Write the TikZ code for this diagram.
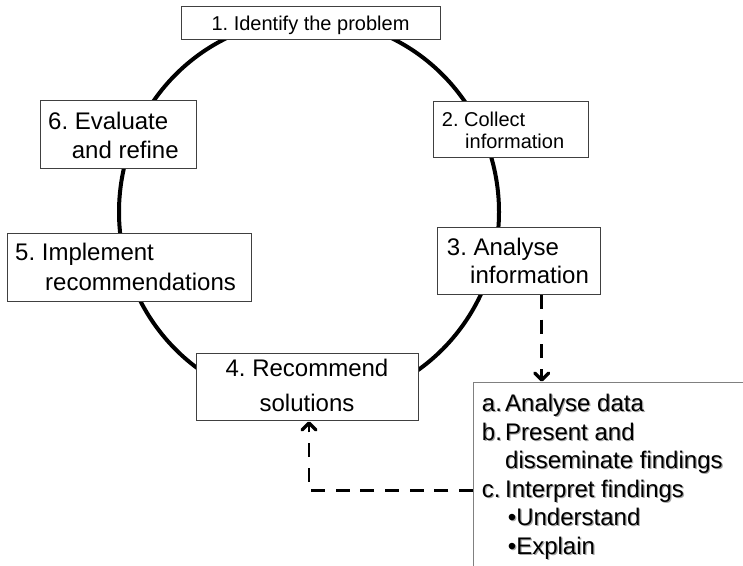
\documentclass[tikz,border=0pt]{standalone}
\usepackage{fontspec}
\setmainfont{Liberation Sans}
\newcommand{\hang}[1]{\makebox[#1][l]}
\newcommand{\stepsText}{\fontsize{24}{28.5}\selectfont\begin{tabular}[t]{@{}l@{}l@{}}
    \hang{23.3pt}{a.}&Analyse data\\
    \hang{23.3pt}{b.}&Present and\\
    &disseminate findings\\
    \hang{23.3pt}{c.}&Interpret findings\\
    &\hspace*{2.7pt}•Understand\\
    &\hspace*{2.7pt}•Explain
  \end{tabular}}
\begin{document}
\frenchspacing
\begin{tikzpicture}[x=1pt,y=-1pt,
  stagebox/.style={draw=black!75, line width=1pt, fill=white, inner sep=0pt, anchor=north west},
  detailbox/.style={draw=black!50, line width=1.4pt, fill=white, inner sep=0pt, anchor=north west},
  lbl/.style={inner sep=0pt, text=black},
  cycle/.style={line width=4pt},
  flow/.style={line width=2.8pt, dash pattern=on 14pt off 10.7pt},
  chevron/.style={line width=3.3pt, line cap=round, line join=round}]
\useasboundingbox (0,0) rectangle (743,565);
\clip (0,0) rectangle (743,565);

% the improvement cycle
\draw[cycle] (309,212) ellipse [x radius=190, y radius=193];

% stage boxes
\node[stagebox, minimum width=259pt, minimum height=33pt] (b1) at (181,6) {};
\node[stagebox, minimum width=155pt, minimum height=56pt] (b2) at (433,101) {};
\node[stagebox, minimum width=163pt, minimum height=67pt] (b3) at (437,227) {};
\node[stagebox, minimum width=222pt, minimum height=67pt] (b4) at (196,353) {};
\node[stagebox, minimum width=244pt, minimum height=68pt] (b5) at (7,233) {};
\node[stagebox, minimum width=156pt, minimum height=68pt] (b6) at (40,100) {};
\node[detailbox, minimum width=300pt, minimum height=220pt] (b7) at (473,382) {};

% stage labels
\node[lbl, anchor=base] (t1) at (310.5,30.7)
  {\fontsize{20}{22}\selectfont 1. Identify the problem};
\node[lbl, anchor=base west] (t2) at (441.7,126.7)
  {\fontsize{20}{21.6}\selectfont\begin{tabular}[t]{@{}l@{}}2. Collect\\\hspace*{23.3pt}information\end{tabular}};
\node[lbl, anchor=base west] (t3) at (446.7,255)
  {\fontsize{24}{28.3}\selectfont\begin{tabular}[t]{@{}l@{}}3. Analyse\\\hspace*{23.3pt}information\end{tabular}};
\node[lbl, anchor=base] (t4) at (307,376)
  {\fontsize{24}{35}\selectfont\begin{tabular}[t]{@{}c@{}}4. Recommend\\solutions\end{tabular}};
\node[lbl, anchor=base west] (t5) at (15,260)
  {\fontsize{24}{30}\selectfont\begin{tabular}[t]{@{}l@{}}5. Implement\\\hspace*{30pt}recommendations\end{tabular}};
\node[lbl, anchor=base west] (t6) at (48,129)
  {\fontsize{24}{29.3}\selectfont\begin{tabular}[t]{@{}l@{}}6. Evaluate\\\hspace*{23.7pt}and refine\end{tabular}};

% analysis steps, with their soft drop shadow
\node[lbl, anchor=base west, text=black!35] (t7s) at (482.9,412.9) {\stepsText};
\node[lbl, anchor=base west] (t7) at (481.7,411.7) {\stepsText};

% dashed links, each ending in an open chevron head
\coordinate (xa) at (541.7,0);
\coordinate (xb) at (309,0);
\coordinate (yb) at (0,490.7);
\draw[flow] (b3.south -| xa) -- ([yshift=2pt]b7.north -| xa);
\draw[chevron] ([shift={(-7,-9)}]b7.north -| xa) -- ([yshift=2pt]b7.north -| xa) -- ([shift={(7,-9)}]b7.north -| xa);
\draw[flow] (b7.west |- yb) -| ([yshift=-2pt]b4.south -| xb);
\draw[chevron] ([shift={(-7,9)}]b4.south -| xb) -- ([yshift=-2pt]b4.south -| xb) -- ([shift={(7,9)}]b4.south -| xb);
\end{tikzpicture}
\end{document}
